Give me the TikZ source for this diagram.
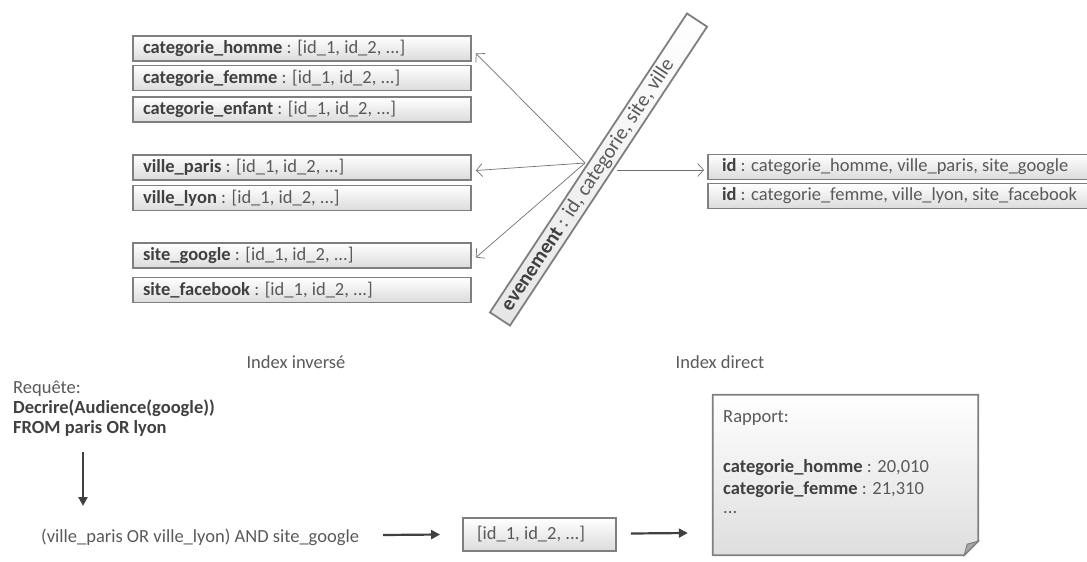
\documentclass[tikz,border=0pt]{standalone}
\usepackage{fontspec}
\setmainfont{Carlito}
\usetikzlibrary{arrows.meta,calc}
\definecolor{txt}{HTML}{595959}
\definecolor{txtb}{HTML}{404040}
\definecolor{bord}{HTML}{7F7F7F}
\definecolor{arr}{HTML}{404040}
\definecolor{thinc}{HTML}{707070}
\newcommand\kvpair[2]{\textbf{\color{txtb}#1} : #2}
\begin{document}
\begin{tikzpicture}[x=1pt,y=-1pt,
  font=\fontsize{18.5}{20}\selectfont,
  every node/.style={text=txt},
  ibox/.style={draw=bord, line width=1.8pt, top color=white, bottom color=black!14,
    minimum height=25pt, minimum width=338pt, inner xsep=0pt, inner ysep=0pt},
  rbox/.style={ibox, minimum width=387pt},
  barbox/.style={draw=bord, line width=1.8pt, top color=white, bottom color=black!10,
    minimum width=358pt, minimum height=24pt, inner sep=0pt, rotate=56.6},
  plain/.style={anchor=west, inner sep=0pt},
  thinarr/.style={draw=thinc, line width=0.7pt, -{Straight Barb[length=6pt,width=13pt]}},
  thickarr/.style={draw=arr, line width=2.2pt, -{Triangle[length=9pt,width=9pt]}}]
\useasboundingbox (0,0) rectangle (1087,562);

% inverted index boxes
\node[ibox] (b1) at (302,48.5) {\makebox[318pt][l]{\kvpair{categorie\_homme}{[id\_1, id\_2, ...]}}};
\node[ibox] (b2) at (302,78) {\makebox[318pt][l]{\kvpair{categorie\_femme}{[id\_1, id\_2, ...]}}};
\node[ibox] (b3) at (302,109.5) {\makebox[318pt][l]{\kvpair{categorie\_enfant}{[id\_1, id\_2, ...]}}};
\node[ibox] (vp) at (302,167.5) {\makebox[318pt][l]{\kvpair{ville\_paris}{[id\_1, id\_2, ...]}}};
\node[ibox] (vl) at (302,198) {\makebox[318pt][l]{\kvpair{ville\_lyon}{[id\_1, id\_2, ...]}}};
\node[ibox] (sg) at (302,255.5) {\makebox[318pt][l]{\kvpair{site\_google}{[id\_1, id\_2, ...]}}};
\node[ibox] (sf) at (302,290) {\makebox[318pt][l]{\kvpair{site\_facebook}{[id\_1, id\_2, ...]}}};

% diagonal event bar
\node[barbox] (bar) at (598.5,169.5) {};
\node[plain, rotate=56.6, font=\fontsize{20.5}{22}\selectfont] (bartext) at ($(bar.west)!12pt!(bar.east)$)
  {\kvpair{evenement}{id, categorie, site, ville}};

% direct index boxes
\node[rbox] (id1) at (901.5,167) {\makebox[359pt][l]{\kvpair{id}{categorie\_homme, ville\_paris, site\_google}}};
\node[rbox] (id2) at (901.5,196) {\makebox[359pt][l]{\kvpair{id}{categorie\_femme, ville\_lyon, site\_facebook}}};

% thin arrows
\coordinate (conv) at (585,163);
\coordinate (rs) at (617,170);
\draw[thinarr] (conv) -- ($(b1.east)+(4,5)$);
\draw[thinarr] (conv) -- ($(vp.east)+(4,3)$);
\draw[thinarr] (conv) -- ($(sg.east)+(4,2)$);
\draw[thinarr] (rs) -- ($(id1.west)+(-3,3)$);

% labels
\node (linv) at (296,362) {Index inversé};
\node (ldir) at (720,362) {Index direct};

% query
\node[plain] (q1) at (13,389) {Requête:};
\node[plain] (q2) at (13,408) {\textbf{\color{txtb}Decrire(Audience(google))}};
\node[plain] (q3) at (13,428) {\textbf{\color{txtb}FROM paris OR lyon}};
\coordinate (da) at (83,452);
\coordinate (db) at (83,506);
\draw[thickarr] (da) -- (db);

\node[plain] (expr) at (41,537) {(ville\_paris OR ville\_lyon) AND site\_google};
\node[ibox, minimum width=153pt, minimum height=33pt] (ids) at (539.5,534.5)
  {\makebox[125pt][l]{[id\_1, id\_2, ...]}};
\draw[thickarr] ($(expr.east)+(24,-2)$) -- ($(ids.west)+(-22,0)$);

% report
\node[minimum width=265pt, minimum height=160pt, inner sep=0pt] (rep) at (845.5,475) {};
\path[draw=bord, line width=1.8pt, top color=white, bottom color=black!13]
  (rep.north west) -- (rep.north east) -- ($(rep.south east)+(0,-14)$)
  -- ($(rep.south east)+(-14,0)$) -- (rep.south west) -- cycle;
\filldraw[fill=black!35, draw=bord, line width=1pt]
  ($(rep.south east)+(0,-14)$) -- ($(rep.south east)+(-14,0)$) -- ($(rep.south east)+(-11,-11)$) -- cycle;
\node[plain] (r1) at (723,418) {Rapport:};
\node[plain] (r2) at (723,468) {\kvpair{categorie\_homme}{20,010}};
\node[plain] (r3) at (723,490) {\kvpair{categorie\_femme}{21,310}};
\node[plain] (r4) at (723,513) {...};
\draw[thickarr] ($(ids.east)+(14,-1)$) -- ($(rep.west)+(-25,58)$);
\end{tikzpicture}
\end{document}
